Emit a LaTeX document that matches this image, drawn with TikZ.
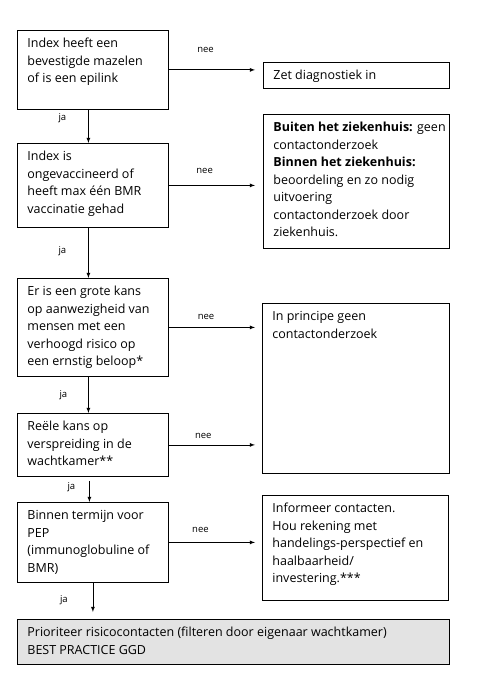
\documentclass[tikz,border=0pt]{standalone}
\usepackage{fontspec}
\setmainfont{Open Sans}
\usetikzlibrary{calc}

\newcommand{\txt}{\fontsize{12.5}{17.5}\selectfont}
\newcommand{\lbl}{\fontsize{9.5}{11}\selectfont}
\newcommand{\boxtext}[3]{\parbox[t][#1][t]{#2}{\raggedright\txt #3}}

\definecolor{prioGrey}{HTML}{E3E3E3}

\tikzset{
	flowbox/.style={draw, line width=0.8pt, anchor=north west, inner xsep=10pt, inner ysep=8pt},
	flowarrow/.style={line width=0.8pt, -latex},
	answer/.style={font=\lbl},
}

\begin{document}
\begin{tikzpicture}[x=1pt, y=-1pt]
	\useasboundingbox (0,0) rectangle (482,677);

	% linker kolom
	\node[flowbox] (idx) at (17,30) {\boxtext{63pt}{131pt}{Index heeft een\\ bevestigde mazelen\\ of is een epilink}};
	\node[flowbox] (vac) at (17,143) {\boxtext{68pt}{131pt}{Index is\\ ongevaccineerd of\\ heeft max één BMR\\ vaccinatie gehad}};
	\node[flowbox] (risk) at (17,278) {\boxtext{82pt}{131pt}{Er is een grote kans\\ op aanwezigheid van\\ mensen met een\\ verhoogd risico op\\ een ernstig beloop*}};
	\node[flowbox] (wacht) at (17,413) {\boxtext{47pt}{131pt}{Reële kans op\\ verspreiding in de\\ wachtkamer**}};
	\node[flowbox] (pep) at (17,502) {\boxtext{64pt}{131pt}{Binnen termijn voor\\ PEP\\ (immunoglobuline of\\ BMR)}};
	\node[flowbox, fill=prioGrey] (prio) at (17,619) {\boxtext{29pt}{412pt}{Prioriteer risicocontacten (filteren door eigenaar wachtkamer)\\ BEST PRACTICE GGD}};

	% rechter kolom
	\node[flowbox] (diag) at (263,62) {\boxtext{10pt}{166pt}{Zet diagnostiek in}};
	\node[flowbox] (zkh) at (263,114) {\boxtext{118pt}{166pt}{\mbox{\textbf{Buiten het ziekenhuis:} geen}\\ contactonderzoek\\ \textbf{Binnen het ziekenhuis:}\\ beoordeling en zo nodig\\ uitvoering\\ contactonderzoek door\\ ziekenhuis.}};
	\node[flowbox] (geen) at (262,303) {\boxtext{154pt}{167pt}{In principe geen\\ contactonderzoek}};
	\node[flowbox] (info) at (262,495) {\boxtext{89pt}{166pt}{Informeer contacten.\\ Hou rekening met\\ handelings-perspectief en\\ haalbaarheid/\\ investering.***}};

	% nee
	\draw[flowarrow, shorten >=8pt] (idx.east) -- (idx.east -| diag.west) node[answer, pos=.39, yshift=20pt] {nee};
	\draw[flowarrow, shorten >=8pt] (vac.east) -- (vac.east -| zkh.west) node[answer, pos=.38, yshift=14pt] {nee};
	\draw[flowarrow, shorten >=7pt] (risk.east) -- (risk.east -| geen.west) node[answer, pos=.40, yshift=10pt] {nee};
	\draw[flowarrow, shorten >=7pt] (wacht.east) -- (wacht.east -| geen.west) node[answer, pos=.37, yshift=9pt] {nee};
	\draw[flowarrow, shorten >=7pt] (pep.east) -- (pep.east -| info.west) node[answer, pos=.34, yshift=12pt] {nee};

	% ja
	\draw[flowarrow] ([xshift=-4.5pt]idx.south) -- ([xshift=-4.5pt]vac.north) node[answer, pos=.24, xshift=-26pt] {ja};
	\draw[flowarrow] ([xshift=-4.5pt]vac.south) -- ([xshift=-4.5pt]risk.north) node[answer, pos=.47, xshift=-26pt] {ja};
	\draw[flowarrow] ([xshift=-4.5pt]risk.south) -- ([xshift=-4.5pt]wacht.north) node[answer, pos=.51, xshift=-25pt] {ja};
	\draw[flowarrow, shorten <=4pt] ([xshift=-3.5pt]wacht.south) -- ([xshift=-3.5pt]pep.north) node[answer, pos=.42, xshift=-18pt] {ja};
	\draw[flowarrow, shorten >=7pt] (pep.south) -- (pep.south |- prio.north) node[answer, pos=.49, xshift=-29pt] {ja};
\end{tikzpicture}
\end{document}
